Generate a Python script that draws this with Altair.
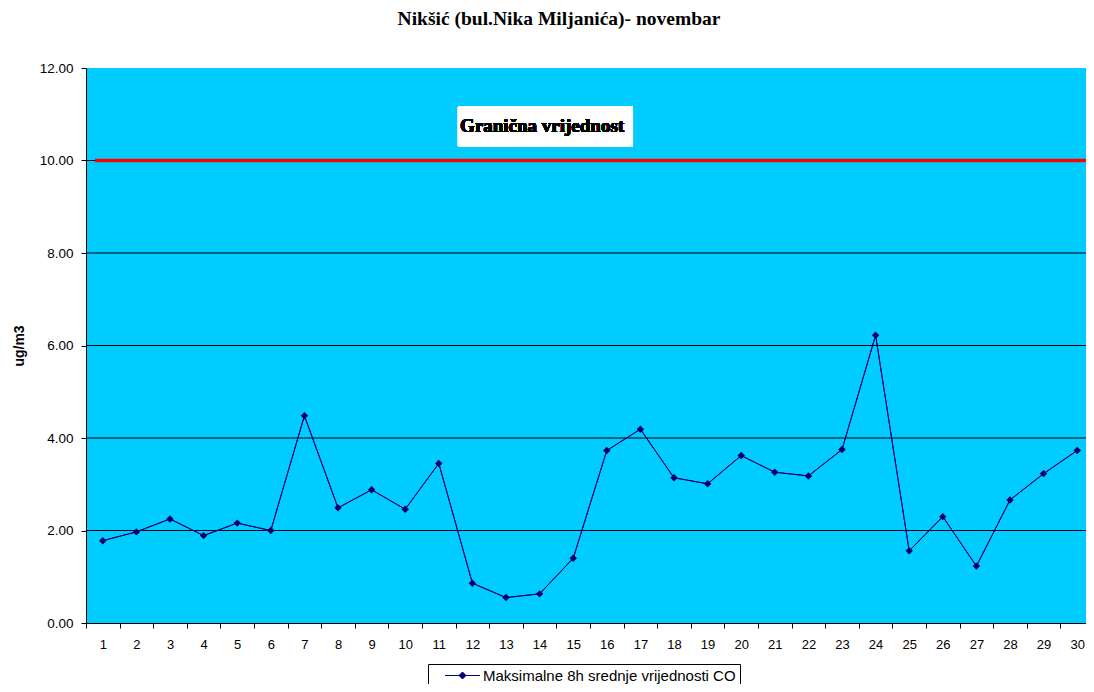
import altair as alt
import pandas as pd

days = list(range(1, 31))
co_values = [1.78, 1.97, 2.25, 1.89, 2.16, 2.00, 4.48, 2.49, 2.88, 2.46,
             3.45, 0.86, 0.55, 0.63, 1.40, 3.73, 4.19, 3.14, 3.01, 3.62,
             3.26, 3.18, 3.75, 6.22, 1.56, 2.30, 1.23, 2.66, 3.23, 3.73]
series_name = "Maksimalne 8h srednje vrijednosti CO"
limit_value = 10.0
limit_label = "Granična vrijednost"
grid_values = [2, 4, 6, 8, 10]
y_ticks = [0, 2, 4, 6, 8, 10, 12]
title_text = "Nikšić (bul.Nika Miljanića)- novembar"

df = pd.DataFrame({"day": days, "value": co_values, "series": [series_name] * len(days)})
grid_df = pd.DataFrame({"g": grid_values})
# the drawn limit line runs a little beyond the first and last day
limit_df = pd.DataFrame({"x": [0.77, 30.32], "y": [limit_value, limit_value]})

NAVY = "#000080"
SANS = "Liberation Sans"
SERIF = "Liberation Serif"
HALF_BAND = 16.8

xscale = alt.Scale(domain=[0.5, 30.5], range=[0, 1008], nice=False, zero=False)
yscale = alt.Scale(domain=[0, 12], nice=False)

x_axis = alt.Axis(values=days, format="d", labelFont=SANS, labelFontSize=13,
                  labelColor="black", tickColor="black", tickSize=5, domainColor="black",
                  tickOffset=-HALF_BAND, labelOffset=HALF_BAND, tickCount=30,
                  labelPadding=10, grid=False, title=None)
y_axis = alt.Axis(values=y_ticks, format=".2f", grid=False, labelFont=SANS, labelFontSize=13.5,
                  labelColor="black", tickColor="black", tickSize=5, domainColor="black",
                  labelPadding=8, title="ug/m3", titleFont=SANS, titleFontSize=14,
                  titleFontWeight="bold", titleColor="black", titlePadding=13)

base = alt.Chart(df)

line = base.mark_line(color=NAVY, strokeWidth=1).encode(
    x=alt.X("day:Q", scale=xscale, axis=x_axis),
    y=alt.Y("value:Q", scale=yscale, axis=y_axis),
)

grid = alt.Chart(grid_df).mark_rule(color="black", strokeWidth=1).encode(
    y=alt.Y("g:Q")
)

limit = alt.Chart(limit_df).mark_line(color="#ff0000", strokeWidth=3.5).encode(
    x=alt.X("x:Q"),
    y=alt.Y("y:Q"),
)

box = base.mark_rect(fill="white").encode(
    x=alt.XDatum(11.57, type="quantitative"),
    x2=alt.X2Datum(16.78),
    y=alt.YDatum(11.16, type="quantitative"),
    y2=alt.Y2Datum(10.31),
)

label = base.mark_text(text=limit_label, font=SERIF, fontSize=19, fontWeight="bold",
                       color="black", align="left", baseline="middle").encode(
    x=alt.XDatum(11.63, type="quantitative"),
    y=alt.YDatum(10.74, type="quantitative"),
)

points = base.mark_point(shape="diamond", filled=True, size=55, opacity=1).encode(
    x=alt.X("day:Q"),
    y=alt.Y("value:Q"),
    color=alt.Color("series:N",
                    scale=alt.Scale(domain=[series_name], range=["#000066"]),
                    legend=alt.Legend(
                        title=None, orient="none", legendX=342, legendY=596,
                        direction="horizontal",
                        strokeColor="black", fillColor="white", padding=4,
                        symbolType="M-3.5,0L3.5,0M0,-0.7L0.7,0L0,0.7L-0.7,0Z",
                        symbolSize=100, symbolStrokeColor=NAVY, symbolStrokeWidth=1,
                        symbolFillColor=NAVY, symbolOffset=23, labelOffset=13,
                        labelLimit=500,
                        labelFont=SANS, labelFontSize=15, labelColor="black",
                    )),
)

chart = alt.layer(line, grid, box, label, limit, line, points).properties(
    width=1000, height=555,
    padding={"left": 78, "top": 60, "right": 0, "bottom": 61},
    autosize=alt.AutoSizeParams(type="none"),
    title=alt.TitleParams(title_text, font=SERIF, fontSize=19.5, fontWeight="bold",
                          color="black", anchor="middle", dx=-27, offset=32),
).configure(background="white").configure_view(fill="#00CCFF", strokeWidth=0)

chart.save("out.html", embed_options={"renderer": "svg", "actions": False})
